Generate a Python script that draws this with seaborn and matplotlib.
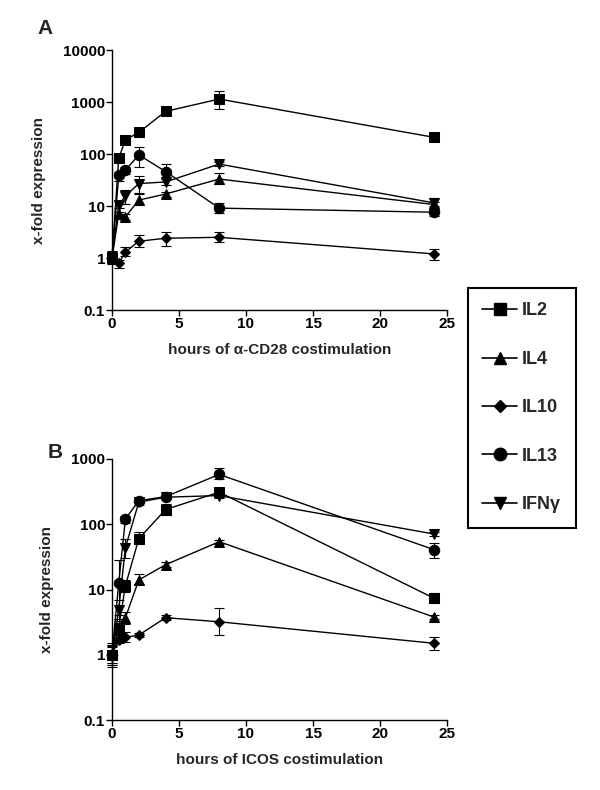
import numpy as np
import pandas as pd
import matplotlib
matplotlib.use("Agg")
import matplotlib.pyplot as plt
import seaborn as sns
from matplotlib.lines import Line2D

sns.set_style("ticks")
plt.rcParams['font.family'] = ['Liberation Sans', 'DejaVu Sans']
plt.rcParams['font.weight'] = 'bold'

hours = [0, 0.5, 1, 2, 4, 8, 24]
genes = ["IL2", "IL4", "IL10", "IL13", "IFNγ"]
markers = {"IL2": "s", "IL4": "^", "IL10": "D", "IL13": "o", "IFNγ": "v"}
msizes = {"IL2": 6.5, "IL4": 7, "IL10": 5, "IL13": 7.5, "IFNγ": 7}

# Panel A: alpha-CD28 costimulation (mean, lower bound, upper bound)
a_IL2 = [1.0, 83, 186, 260, 660, 1140, 210]
a_IL2_lo = [0.75, 75, 170, 235, 600, 740, 195]
a_IL2_hi = [1.35, 92, 200, 285, 720, 1650, 225]
a_IL4 = [1.0, 7.0, 6.2, 13, 17, 33, 10.7]
a_IL4_lo = [0.8, 6.3, 5.5, 10.5, 15, 27, 9.5]
a_IL4_hi = [1.3, 7.8, 7.0, 17, 19, 44, 12]
a_IL10 = [1.0, 0.79, 1.3, 2.1, 2.4, 2.5, 1.2]
a_IL10_lo = [0.8, 0.63, 1.1, 1.65, 1.7, 2.0, 0.93]
a_IL10_hi = [1.3, 0.9, 1.6, 2.8, 3.1, 3.1, 1.5]
a_IL13 = [1.0, 39, 49, 96, 46, 9.1, 7.6]
a_IL13_lo = [0.8, 30, 41, 57, 35, 7.2, 6.5]
a_IL13_hi = [1.25, 46, 57, 134, 63, 11.3, 9.0]
a_IFNg = [1.0, 10.5, 15.5, 27, 29, 64, 11.5]
a_IFNg_lo = [0.8, 9.0, 11, 18, 25, 58, 10]
a_IFNg_hi = [1.3, 12, 20, 38, 33, 70, 14]

# Panel B: ICOS costimulation
b_IL2 = [1.0, 2.6, 11.4, 60, 168, 310, 7.4]
b_IL2_lo = [0.7, 2.0, 9.0, 49, 140, 270, 6.2]
b_IL2_hi = [1.4, 3.3, 14, 76, 203, 350, 8.8]
b_IL4 = [1.0, 2.5, 3.7, 14, 24, 54, 3.8]
b_IL4_lo = [0.75, 2.0, 3.0, 12, 22, 50, 3.5]
b_IL4_hi = [1.35, 3.0, 4.5, 17, 26, 58, 4.1]
b_IL10 = [1.0, 1.7, 1.85, 2.0, 3.7, 3.2, 1.5]
b_IL10_lo = [0.75, 1.5, 1.55, 1.85, 3.4, 2.0, 1.2]
b_IL10_hi = [1.3, 1.9, 2.2, 2.15, 4.0, 5.2, 1.9]
b_IL13 = [1.0, 12.5, 120, 230, 265, 580, 41]
b_IL13_lo = [0.65, 4.0, 105, 210, 245, 500, 30]
b_IL13_hi = [1.5, 28, 135, 250, 285, 720, 52]
b_IFNg = [1.0, 4.9, 44, 218, 260, 275, 71]
b_IFNg_lo = [0.7, 3.5, 30, 200, 240, 255, 66]
b_IFNg_hi = [1.4, 7.0, 60, 236, 280, 295, 76]

panelA = {
    "IL2": (a_IL2, a_IL2_lo, a_IL2_hi),
    "IL4": (a_IL4, a_IL4_lo, a_IL4_hi),
    "IL10": (a_IL10, a_IL10_lo, a_IL10_hi),
    "IL13": (a_IL13, a_IL13_lo, a_IL13_hi),
    "IFNγ": (a_IFNg, a_IFNg_lo, a_IFNg_hi),
}
panelB = {
    "IL2": (b_IL2, b_IL2_lo, b_IL2_hi),
    "IL4": (b_IL4, b_IL4_lo, b_IL4_hi),
    "IL10": (b_IL10, b_IL10_lo, b_IL10_hi),
    "IL13": (b_IL13, b_IL13_lo, b_IL13_hi),
    "IFNγ": (b_IFNg, b_IFNg_lo, b_IFNg_hi),
}

fig = plt.figure(figsize=(6.0, 7.9), dpi=100)
axA = fig.add_axes([112/600, 1-310/790, 335/600, 260/790])
axB = fig.add_axes([112/600, 1-720/790, 335/600, 261/790])


def draw(ax, data, ymin, ymax, yticks, ylabels, xlabel, ylabelpad):
    rows = []
    for g in genes:
        vals, lo, hi = data[g]
        for h, v in zip(hours, vals):
            rows.append({"hours": h, "value": v, "gene": g})
    df = pd.DataFrame(rows)
    for g in genes:
        sub = df[df.gene == g]
        sns.lineplot(data=sub, x="hours", y="value", ax=ax, color="black",
                     marker=markers[g], markersize=msizes[g], linewidth=1.0,
                     markeredgecolor="black", markerfacecolor="black",
                     legend=False, errorbar=None, zorder=3, clip_on=False)
        vals, lo, hi = data[g]
        v = np.array(vals)
        yerr = np.vstack([v - np.array(lo), np.array(hi) - v])
        eb = ax.errorbar(hours, v, yerr=yerr, fmt="none", ecolor="black",
                         elinewidth=0.8, capsize=3.5, capthick=0.8, zorder=2)
        for art in eb.lines[1] + eb.lines[2]:
            art.set_clip_on(False)
    ax.set_yscale("log")
    ax.set_ylim(ymin, ymax)
    ax.set_xlim(0, 25)
    ax.set_xticks([0, 5, 10, 15, 20, 25])
    ax.set_xticklabels(["0", "5", "10", "15", "20", "25"], fontweight="bold", fontsize=11)
    ax.set_yticks(yticks)
    ax.set_yticklabels(ylabels, fontweight="bold", fontsize=11)
    ax.yaxis.set_minor_locator(matplotlib.ticker.NullLocator())
    ax.tick_params(axis="both", direction="out", length=4, width=1, pad=1, colors="black")
    for s in ["top", "right"]:
        ax.spines[s].set_visible(False)
    for s in ["left", "bottom"]:
        ax.spines[s].set_linewidth(1.0)
        ax.spines[s].set_color("black")
    ax.set_xlabel(xlabel, fontweight="bold", fontsize=11, labelpad=9)
    ax.set_ylabel("x-fold expression", fontweight="bold", fontsize=11, labelpad=ylabelpad)
    ax.patch.set_alpha(0)


draw(axA, panelA, 0.1, 10000, [0.1, 1, 10, 100, 1000, 10000],
     ["0.1", "1", "10", "100", "1000", "10000"], "hours of α-CD28 costimulation", 12)
draw(axB, panelB, 0.1, 1000, [0.1, 1, 10, 100, 1000],
     ["0.1", "1", "10", "100", "1000"], "hours of ICOS costimulation", 12)

fig.text(45/600, 1-28/790, "A", fontsize=15, fontweight="bold", ha="center", va="center")
fig.text(55/600, 1-452/790, "B", fontsize=15, fontweight="bold", ha="center", va="center")

handles = [Line2D([0], [0], color="black", marker=markers[g], markersize=msizes[g] + 1.5,
                  linewidth=1.2, markerfacecolor="black", markeredgecolor="black")
           for g in genes]
leg = fig.legend(handles, genes, loc="upper left", bbox_to_anchor=(468/600, 1-288/790),
                 frameon=True, fancybox=False, edgecolor="black", framealpha=1,
                 prop={"weight": "bold", "size": 13}, labelspacing=1.74,
                 handlelength=1.9, handletextpad=0.3, borderpad=0.8, borderaxespad=0)
leg.get_frame().set_linewidth(1.5)

fig.savefig("out.png", dpi=100)
